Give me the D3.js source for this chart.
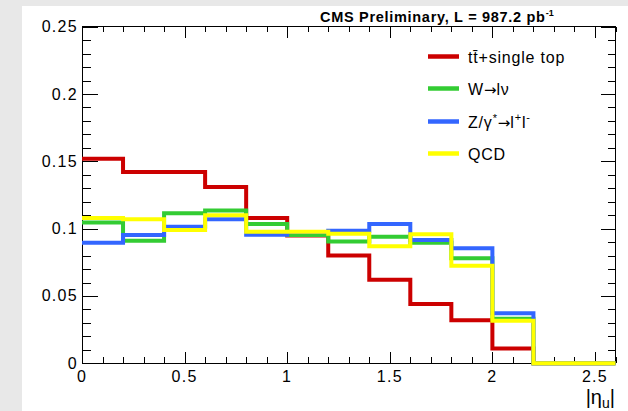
<!DOCTYPE html>
<html><head><meta charset="utf-8">
<script src="https://cdn.jsdelivr.net/npm/d3@7"></script>
<style>
body{margin:0;background:#e8e8e8;}
svg{display:block}
text{font-family:"Liberation Sans",Arial,Helvetica,sans-serif;fill:#000}
</style>
</head><body>
<svg id="c" width="628" height="411"></svg>
<script>
// ---- data ----
const binEdges = [0, 0.2, 0.4, 0.6, 0.8, 1.0, 1.2, 1.4, 1.6, 1.8, 2.0, 2.2, 2.4, 2.6];
const ttbar = [0.152, 0.142, 0.142, 0.131, 0.108, 0.095, 0.080, 0.062, 0.044, 0.032, 0.011, 0, 0];
const wlnu  = [0.1045, 0.091, 0.1114, 0.1134, 0.1035, 0.0953, 0.0905, 0.094, 0.0896, 0.078, 0.0331, 0, 0];
const zll   = [0.0896, 0.0953, 0.1015, 0.107, 0.0955, 0.0975, 0.0985, 0.1035, 0.0915, 0.0854, 0.0371, 0, 0];
const qcd   = [0.108, 0.107, 0.099, 0.110, 0.0977, 0.0977, 0.0963, 0.0870, 0.0958, 0.0725, 0.0316, 0, 0];
const seriesNames = ["tt\u0304+single top", "W\u2192l\u03bd", "Z/\u03b3*\u2192l+l-", "QCD"];
const seriesColors = ["#cc0000", "#33cc33", "#3366ff", "#ffff00"];
const xMajorTicks = [0, 0.5, 1, 1.5, 2, 2.5];
const xTickLabels = ["0", "0.5", "1", "1.5", "2", "2.5"];
const xMinorTicks = [0.1,0.2,0.3,0.4,0.6,0.7,0.8,0.9,1.1,1.2,1.3,1.4,1.6,1.7,1.8,1.9,2.1,2.2,2.3,2.4,2.6];
const yMajorTicks = [0, 0.05, 0.1, 0.15, 0.2, 0.25];
const yTickLabels = ["0", "0.05", "0.1", "0.15", "0.2", "0.25"];
const yMinorTicks = [0.01,0.02,0.03,0.04,0.06,0.07,0.08,0.09,0.11,0.12,0.13,0.14,0.16,0.17,0.18,0.19,0.21,0.22,0.23,0.24];

const svg = d3.select("#c");
// pad
svg.append("rect").attr("x", 22).attr("y", 6).attr("width", 606).attr("height", 405).attr("fill", "#fff");

const L = 82, R = 615.5, T = 26.7, B = 363.3;
const x = d3.scaleLinear().domain([0, 2.6]).range([L, R]);
const y = d3.scaleLinear().domain([0, 0.25]).range([B, T]);

const ax = svg.append("g");
function axisG(gen, tx, ty) {
  const g = ax.append("g").attr("transform", `translate(${tx},${ty})`).call(gen);
  g.select(".domain").remove();
  g.selectAll(".tick line").attr("stroke", "#000").attr("shape-rendering", "crispEdges");
  return g;
}
// bottom
axisG(d3.axisTop(x).tickValues(xMajorTicks).tickSize(11).tickFormat(""), 0, B);
axisG(d3.axisTop(x).tickValues(xMinorTicks).tickSize(6).tickFormat(""), 0, B);
// top
axisG(d3.axisBottom(x).tickValues(xMajorTicks).tickSize(11).tickFormat(""), 0, T);
axisG(d3.axisBottom(x).tickValues(xMinorTicks).tickSize(5).tickFormat(""), 0, T);
// left
axisG(d3.axisRight(y).tickValues(yMajorTicks).tickSize(16).tickFormat(""), L, 0);
axisG(d3.axisRight(y).tickValues(yMinorTicks).tickSize(9).tickFormat(""), L, 0);
// right
axisG(d3.axisLeft(y).tickValues(yMajorTicks).tickSize(15).tickFormat(""), R, 0);
axisG(d3.axisLeft(y).tickValues(yMinorTicks).tickSize(8).tickFormat(""), R, 0);

// frame
ax.append("rect").attr("x", L).attr("y", T).attr("width", R - L).attr("height", B - T)
  .attr("fill", "none").attr("stroke", "#000").attr("stroke-width", 1).attr("shape-rendering", "crispEdges");

// tick labels
ax.selectAll(".xl").data(xMajorTicks).enter().append("text")
  .attr("x", d => x(d)).attr("y", 382).attr("text-anchor", "middle")
  .style("font-size", "16px").style("letter-spacing", "1.3px")
  .text((d, i) => xTickLabels[i]);
ax.selectAll(".yl").data(yMajorTicks).enter().append("text")
  .attr("x", 78).attr("y", d => y(d) + 5.5).attr("text-anchor", "end")
  .style("font-size", "16px").style("letter-spacing", "1.3px")
  .text((d, i) => yTickLabels[i]);

// histograms
const allSeries = [ttbar, wlnu, zll, qcd];
const line = d3.line().x(d => x(d[0])).y(d => y(d[1])).curve(d3.curveStepAfter);
allSeries.forEach((vals, si) => {
  const pts = vals.map((v, i) => [binEdges[i], v]);
  pts.push([binEdges[binEdges.length - 1], vals[vals.length - 1]]);
  svg.append("path").attr("d", line(pts)).attr("fill", "none")
    .attr("stroke", seriesColors[si]).attr("stroke-width", 4).attr("stroke-linejoin", "miter");
});

// legend
const legY = [56.5, 88.5, 121.5, 153.5];
const leg = svg.append("g");
seriesNames.forEach((nm, i) => {
  leg.append("line").attr("x1", 428).attr("x2", 459).attr("y1", legY[i]).attr("y2", legY[i])
    .attr("stroke", seriesColors[i]).attr("stroke-width", 4.5);
});
const lt = (i) => leg.append("text").attr("x", 468).attr("y", legY[i] + 6)
  .style("font-size", "16px").style("letter-spacing", "0.8px");
const arrow = (t) => t.append("tspan").style("font-family", "'DejaVu Sans'").style("font-size", "15px")
  .style("letter-spacing", "0px").text("\u2192");
lt(0).text(seriesNames[0]);
{
  const t = lt(1);
  t.append("tspan").text("W");
  arrow(t);
  t.append("tspan").text("l\u03bd");
}
{
  const t = lt(2);
  t.append("tspan").text("Z/\u03b3");
  t.append("tspan").attr("dy", -6).style("font-size", "11px").text("*");
  arrow(t).attr("dy", 6);
  t.append("tspan").text("l");
  t.append("tspan").attr("dy", -7).style("font-size", "11px").text("+");
  t.append("tspan").attr("dy", 7).text("l");
  t.append("tspan").attr("dy", -7).style("font-size", "11px").text("-");
}
lt(3).text(seriesNames[3]);

// title
const tt = svg.append("text").attr("x", 320).attr("y", 22)
  .style("font-size", "14.5px").style("font-weight", "bold").style("letter-spacing", "0.7px");
tt.append("tspan").text("CMS Preliminary, L = 987.2 pb");
tt.append("tspan").attr("dy", -6).style("font-size", "9px").style("letter-spacing", "0px").text("-1");

// axis title
const at = svg.append("text").attr("x", 615).attr("y", 404).attr("text-anchor", "end")
  .style("font-size", "20px");
at.append("tspan").text("|\u03b7");
at.append("tspan").attr("dy", 4).style("font-size", "14px").text("u");
at.append("tspan").attr("dy", -4).text("|");
</script>
</body></html>
